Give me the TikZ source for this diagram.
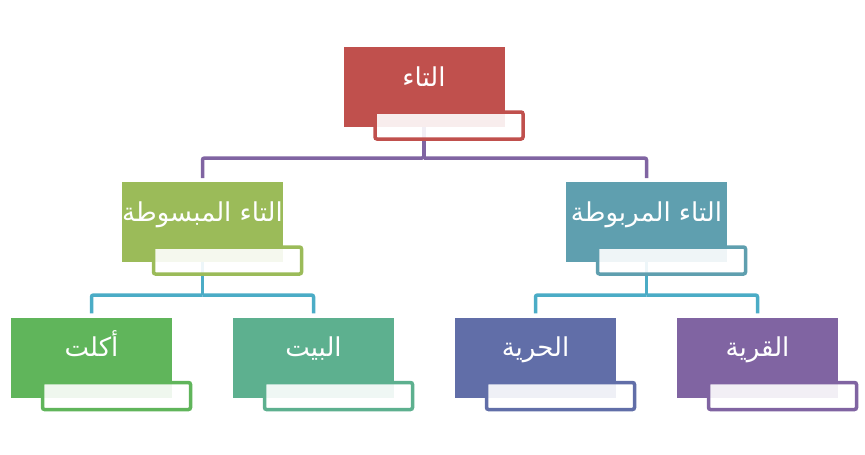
\documentclass[tikz,border=0pt]{standalone}
\usepackage{fontspec}
\newfontfamily\arabicfont[Script=Arabic]{DejaVu Sans}
\TeXXeTstate=1
\usepackage{tikz}
\definecolor{rootred}{HTML}{C0504D}
\definecolor{boundgreen}{HTML}{9BBB59}
\definecolor{tiedteal}{HTML}{5F9FAF}
\definecolor{ategreen}{HTML}{60B55B}
\definecolor{housegreen}{HTML}{5DB08F}
\definecolor{freeblue}{HTML}{616EA8}
\definecolor{villagepurple}{HTML}{8064A2}
\definecolor{toplink}{HTML}{8064A2}
\definecolor{lowlink}{HTML}{4BACC6}
\tikzset{
  card/.style={fill=#1, inner sep=0pt, minimum width=161pt, text height=39pt, text depth=41pt,
    text=white, font=\arabicfont\fontsize{26}{30}\selectfont},
  rim/.style={draw=#1, line width=3.5pt, rounded corners=2pt, fill=white, fill opacity=0.9,
    minimum width=148pt, minimum height=27pt, inner sep=0pt},
  twig/.style={draw=#1, line width=3.5pt, rounded corners=2pt, shorten >=4pt},
}
\newcommand{\ar}[1]{\beginR #1\endR}

\begin{document}
\begin{tikzpicture}[x=1pt, y=-1pt]
  \useasboundingbox (0,0) rectangle (865,455);

  % links
  \coordinate (topfork) at (424,158);
  \coordinate (leftfork) at (202.5,295);
  \coordinate (rightfork) at (646.5,295);
  \draw[twig=toplink] (424,127) -- (topfork) -| (202.5,182);
  \draw[twig=toplink] (topfork) -| (646.5,182);

  % level 0
  \node[card=rootred] (root) at (424,87) {\ar{التاء}};
  \draw[twig=toplink, shorten >=0pt] (root.south) -- (topfork);

  % level 1
  \node[card=boundgreen] (bound) at (202.5,222) {\ar{التاء المبسوطة}};
  \node[card=tiedteal] (tied) at (646.5,222) {\ar{التاء المربوطة}};

  % level 2
  \node[card=ategreen] (ate) at (91.5,357.5) {\ar{أكلت}};
  \node[card=housegreen] (house) at (313.5,357.5) {\ar{البيت}};
  \node[card=freeblue] (freedom) at (535.5,357.5) {\ar{الحرية}};
  \node[card=villagepurple] (village) at (757.5,357.5) {\ar{القرية}};

  \draw[twig=lowlink, shorten >=0pt] (bound.south) -- (leftfork);
  \draw[twig=lowlink] (leftfork) -| (ate.north);
  \draw[twig=lowlink] (leftfork) -| (house.north);
  \draw[twig=lowlink, shorten >=0pt] (tied.south) -- (rightfork);
  \draw[twig=lowlink] (rightfork) -| (freedom.north);
  \draw[twig=lowlink] (rightfork) -| (village.north);

  % rims
  \node[rim=rootred] (rootrim) at ([shift={(25,38.5)}]root.center) {};
  \node[rim=boundgreen] (boundrim) at ([shift={(25,38.5)}]bound.center) {};
  \node[rim=tiedteal] (tiedrim) at ([shift={(25,38.5)}]tied.center) {};
  \node[rim=ategreen] (aterim) at ([shift={(25,38.5)}]ate.center) {};
  \node[rim=housegreen] (houserim) at ([shift={(25,38.5)}]house.center) {};
  \node[rim=freeblue] (freedomrim) at ([shift={(25,38.5)}]freedom.center) {};
  \node[rim=villagepurple] (villagerim) at ([shift={(25,38.5)}]village.center) {};
\end{tikzpicture}
\end{document}
